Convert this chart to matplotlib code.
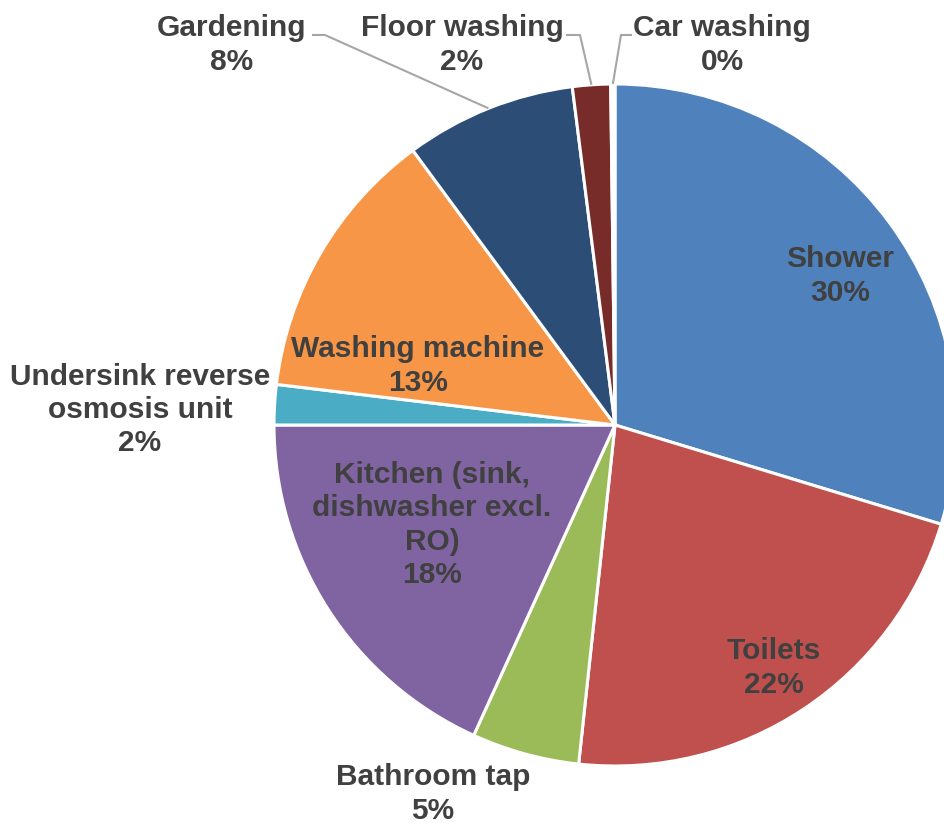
import numpy as np
import matplotlib.pyplot as plt

# ── Data ──────────────────────────────────────────────────────────
categories = [
    "Shower", "Toilets", "Bathroom tap",
    "Kitchen (sink,\ndishwasher excl.\nRO)",
    "Undersink reverse\nosmosis unit", "Washing machine",
    "Gardening", "Floor washing", "Car washing",
]
shares = [29.7, 22.0, 5.1, 18.2, 1.9, 13.0, 8.1, 1.8, 0.2]
colors = ["#4F81BD", "#C0504D", "#9BBB59", "#8064A2", "#4BACC6",
          "#F79646", "#2C4D75", "#772C2A", "#FFFFFF"]

# ── Layout (pixels in a 945x824 canvas) ───────────────────────────
W, H = 945, 824
CX, CY, R = 615, 425, 341
# label centres in pixels
label_px = [(840, 276), (774, 668), (433, 794), (432, 525),
            (140, 410), (418, 366), (232, 45), (462, 45), (722, 45)]
# leader elbows for outside labels: (text end, elbow)
leaders = {6: [(312, 35), (325, 35)],
           7: [(566, 35), (580, 35)],
           8: [(632, 35), (621, 35)]}


def px(x, y):
    return (x - CX) / R, (CY - y) / R


fig = plt.figure(figsize=(W / 100, H / 100), dpi=100)
ax = fig.add_axes([0, 0, 1, 1])

wedges, _ = ax.pie(shares, colors=colors, startangle=90, counterclock=False,
                   radius=1.0, center=(0, 0),
                   wedgeprops=dict(edgecolor="white", linewidth=2.2))

# pie() resets the limits, so set the canvas mapping afterwards
ax.set_xlim(-CX / R, (W - CX) / R)
ax.set_ylim(-(H - CY) / R, CY / R)
ax.set_aspect("equal")
ax.axis("off")

txt = dict(fontsize=21.5, fontweight="bold", color="#404040",
           family=["Liberation Sans", "DejaVu Sans"],
           ha="center", va="center", linespacing=1.23)

for i, (name, val) in enumerate(zip(categories, shares)):
    x, y = px(*label_px[i])
    ax.text(x, y, f"{name}\n{round(val):.0f}%", **txt)
    if i in leaders:
        w = wedges[i]
        mid = np.deg2rad((w.theta1 + w.theta2) / 2)
        pts = [px(*p) for p in leaders[i]] + [(np.cos(mid), np.sin(mid))]
        xs, ys = zip(*pts)
        ax.plot(xs, ys, color="#A6A6A6", lw=1.5, solid_capstyle="butt")

fig.savefig("out.png", dpi=100)
